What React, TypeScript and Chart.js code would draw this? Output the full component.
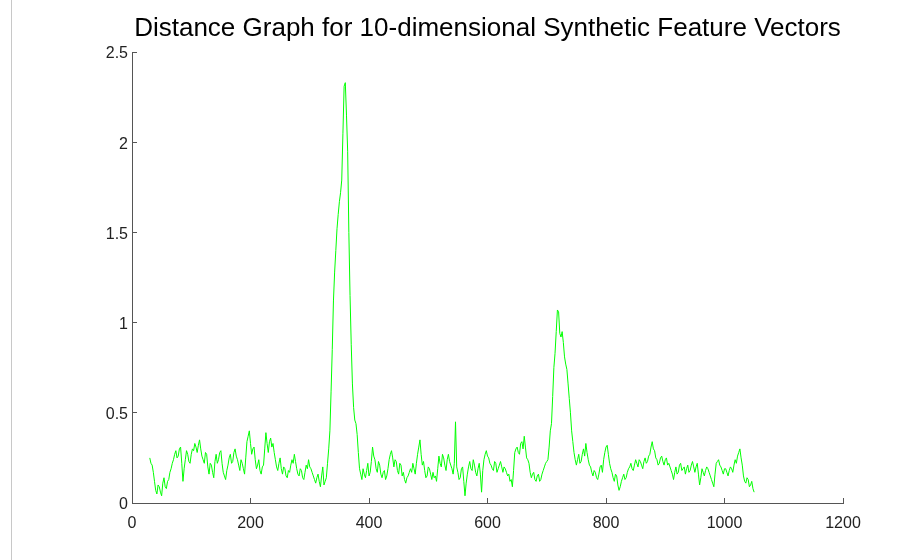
import React, { useEffect, useRef } from "react";
import { Chart, registerables } from "chart.js";

Chart.register(...registerables);

const TITLE = "Distance Graph for 10-dimensional Synthetic Feature Vectors";

// sample positions: first index and spacing of the distance samples
const SAMPLE_START = 30;
const SAMPLE_STEP = 2;

// distance values, one per sample (x = 30, 32, ..., 1050)
const distances: number[] = [
  0.25, 0.22, 0.21, 0.17, 0.12, 0.07, 0.05, 0.10, 0.09, 0.06, 0.04, 0.11, 0.14, 0.09, 0.08, 0.12, 0.13, 0.17, 0.19, 0.22,
  0.24, 0.27, 0.29, 0.25, 0.26, 0.30, 0.31, 0.22, 0.12, 0.19, 0.24, 0.29, 0.27, 0.23, 0.22, 0.27, 0.30, 0.29, 0.33, 0.31,
  0.28, 0.32, 0.35, 0.30, 0.26, 0.24, 0.22, 0.28, 0.27, 0.20, 0.16, 0.22, 0.21, 0.17, 0.14, 0.23, 0.27, 0.22, 0.24, 0.28,
  0.29, 0.22, 0.17, 0.15, 0.13, 0.18, 0.21, 0.25, 0.27, 0.22, 0.23, 0.28, 0.30, 0.26, 0.24, 0.21, 0.18, 0.24, 0.22, 0.19,
  0.16, 0.25, 0.34, 0.37, 0.40, 0.33, 0.27, 0.30, 0.31, 0.24, 0.19, 0.21, 0.24, 0.18, 0.16, 0.20, 0.21, 0.30, 0.39, 0.33,
  0.28, 0.34, 0.36, 0.31, 0.33, 0.28, 0.24, 0.20, 0.18, 0.22, 0.25, 0.19, 0.16, 0.20, 0.19, 0.15, 0.14, 0.18, 0.17, 0.21,
  0.24, 0.22, 0.27, 0.23, 0.19, 0.16, 0.15, 0.19, 0.18, 0.14, 0.13, 0.17, 0.21, 0.19, 0.24, 0.20, 0.19, 0.17, 0.15, 0.13,
  0.11, 0.14, 0.16, 0.12, 0.09, 0.15, 0.20, 0.10, 0.12, 0.14, 0.22, 0.30, 0.40, 0.62, 0.85, 1.12, 1.28, 1.40, 1.52, 1.60,
  1.67, 1.72, 1.79, 2.05, 2.31, 2.33, 2.15, 1.95, 1.50, 1.15, 0.88, 0.66, 0.53, 0.46, 0.44, 0.38, 0.28, 0.19, 0.16, 0.13,
  0.19, 0.16, 0.14, 0.18, 0.22, 0.15, 0.17, 0.23, 0.31, 0.26, 0.24, 0.19, 0.17, 0.23, 0.21, 0.16, 0.14, 0.17, 0.18, 0.13,
  0.15, 0.19, 0.24, 0.27, 0.29, 0.25, 0.20, 0.24, 0.23, 0.18, 0.16, 0.22, 0.21, 0.15, 0.17, 0.13, 0.11, 0.14, 0.15, 0.17,
  0.19, 0.17, 0.22, 0.19, 0.16, 0.22, 0.27, 0.31, 0.35, 0.27, 0.21, 0.23, 0.18, 0.14, 0.15, 0.20, 0.19, 0.16, 0.13, 0.17,
  0.14, 0.15, 0.12, 0.19, 0.26, 0.22, 0.20, 0.27, 0.25, 0.21, 0.18, 0.24, 0.27, 0.23, 0.21, 0.19, 0.16, 0.22, 0.45, 0.20,
  0.17, 0.13, 0.14, 0.19, 0.20, 0.12, 0.04, 0.11, 0.16, 0.20, 0.23, 0.19, 0.18, 0.24, 0.21, 0.17, 0.15, 0.19, 0.22, 0.16,
  0.06, 0.18, 0.24, 0.27, 0.29, 0.26, 0.25, 0.22, 0.21, 0.19, 0.18, 0.23, 0.22, 0.17, 0.19, 0.21, 0.23, 0.20, 0.17, 0.20,
  0.19, 0.17, 0.15, 0.16, 0.12, 0.13, 0.09, 0.18, 0.28, 0.30, 0.31, 0.28, 0.27, 0.33, 0.34, 0.30, 0.37, 0.31, 0.25, 0.24,
  0.22, 0.17, 0.14, 0.16, 0.17, 0.13, 0.12, 0.15, 0.16, 0.12, 0.13, 0.16, 0.18, 0.20, 0.22, 0.23, 0.24, 0.31, 0.40, 0.44,
  0.59, 0.75, 0.83, 0.95, 1.07, 1.06, 0.94, 0.92, 0.95, 0.89, 0.81, 0.77, 0.74, 0.66, 0.58, 0.50, 0.40, 0.34, 0.28, 0.24,
  0.21, 0.24, 0.27, 0.22, 0.23, 0.27, 0.30, 0.26, 0.33, 0.28, 0.24, 0.21, 0.20, 0.17, 0.15, 0.18, 0.17, 0.14, 0.13, 0.16,
  0.20, 0.21, 0.17, 0.24, 0.28, 0.31, 0.32, 0.27, 0.22, 0.19, 0.17, 0.14, 0.12, 0.16, 0.15, 0.10, 0.07, 0.09, 0.12, 0.14,
  0.16, 0.13, 0.14, 0.17, 0.19, 0.20, 0.22, 0.19, 0.18, 0.21, 0.24, 0.22, 0.20, 0.24, 0.23, 0.21, 0.19, 0.23, 0.25, 0.22,
  0.23, 0.26, 0.27, 0.31, 0.34, 0.30, 0.29, 0.25, 0.24, 0.21, 0.22, 0.25, 0.26, 0.23, 0.21, 0.24, 0.25, 0.21, 0.22, 0.20,
  0.18, 0.16, 0.13, 0.17, 0.20, 0.16, 0.17, 0.21, 0.22, 0.18, 0.19, 0.20, 0.16, 0.19, 0.21, 0.17, 0.18, 0.21, 0.23, 0.20,
  0.17, 0.20, 0.22, 0.16, 0.10, 0.14, 0.19, 0.17, 0.15, 0.18, 0.20, 0.19, 0.17, 0.15, 0.13, 0.11, 0.09, 0.16, 0.22, 0.23,
  0.24, 0.21, 0.20, 0.18, 0.16, 0.19, 0.19, 0.17, 0.15, 0.18, 0.20, 0.19, 0.17, 0.21, 0.24, 0.22, 0.26, 0.28, 0.30, 0.25,
  0.21, 0.15, 0.12, 0.11, 0.14, 0.13, 0.09, 0.10, 0.12, 0.08, 0.06,
];

const xTicks: number[] = [0, 200, 400, 600, 800, 1000, 1200];
const yTicks: number[] = [0, 0.5, 1, 1.5, 2, 2.5];
const xTickLabels: string[] = ["0", "200", "400", "600", "800", "1000", "1200"];
const yTickLabels: string[] = ["0", "0.5", "1", "1.5", "2", "2.5"];

const FONT = "'Liberation Sans', Arial, Helvetica, sans-serif";

export default function App() {
  const ref = useRef<HTMLCanvasElement | null>(null);

  useEffect(() => {
    const canvas = ref.current;
    if (!canvas) return;
    const points = distances.map((v, i) => ({ x: SAMPLE_START + i * SAMPLE_STEP, y: v }));
    const chart = new Chart(canvas, {
      type: "line",
      data: {
        datasets: [
          {
            data: points,
            borderColor: "#00ff00",
            borderWidth: 1,
            pointRadius: 0,
            tension: 0,
            fill: false,
          },
        ],
      },
      options: {
        animation: false,
        responsive: false,
        maintainAspectRatio: false,
        events: [],
        layout: { padding: { left: 0, right: 74, top: 0, bottom: 0 } },
        plugins: {
          legend: { display: false },
          tooltip: { enabled: false },
          title: {
            display: true,
            text: TITLE,
            fullSize: false,
            color: "#000000",
            font: { family: FONT, size: 26, weight: "normal", lineHeight: 1.2 },
            padding: { top: 13, bottom: 7.8 },
          },
        },
        scales: {
          x: {
            type: "linear",
            min: xTicks[0],
            max: xTicks[xTicks.length - 1],
            afterFit: (s: any) => {
              s.height = 57;
            },
            afterBuildTicks: (s: any) => {
              s.ticks = xTicks.map((v) => ({ value: v }));
            },
            ticks: {
              color: "#222222",
              font: { family: FONT, size: 16 },
              padding: 16,
              maxRotation: 0,
              autoSkip: false,
              callback: (v: any) => {
                const i = xTicks.indexOf(Number(v));
                return i >= 0 ? xTickLabels[i] : "";
              },
            },
            grid: {
              drawOnChartArea: false,
              drawTicks: true,
              tickLength: -5,
              color: "#555555",
              lineWidth: 1,
            },
            border: { display: true, color: "#555555", width: 1 },
          },
          y: {
            type: "linear",
            min: yTicks[0],
            max: yTicks[yTicks.length - 1],
            afterFit: (s: any) => {
              s.width = 132;
            },
            afterBuildTicks: (s: any) => {
              s.ticks = yTicks.map((v) => ({ value: v }));
            },
            ticks: {
              color: "#222222",
              font: { family: FONT, size: 16 },
              padding: 9,
              labelOffset: 2,
              autoSkip: false,
              callback: (v: any) => {
                const i = yTicks.indexOf(Number(v));
                return i >= 0 ? yTickLabels[i] : "";
              },
            },
            grid: {
              drawOnChartArea: false,
              drawTicks: true,
              tickLength: -5,
              color: "#555555",
              lineWidth: 1,
            },
            border: { display: true, color: "#555555", width: 1 },
          },
        },
      },
    });
    return () => chart.destroy();
  }, []);

  return (
    <div
      style={{
        position: "fixed",
        left: 0,
        top: 0,
        width: 917,
        height: 560,
        background: "#ffffff",
        overflow: "hidden",
      }}
    >
      <div
        style={{
          position: "absolute",
          left: 11,
          top: 0,
          width: 1,
          height: 560,
          background: "#c8c8c8",
        }}
      />
      <canvas
        ref={ref}
        width={917}
        height={560}
        style={{ position: "absolute", left: 0, top: 0, width: 917, height: 560 }}
      />
    </div>
  );
}
